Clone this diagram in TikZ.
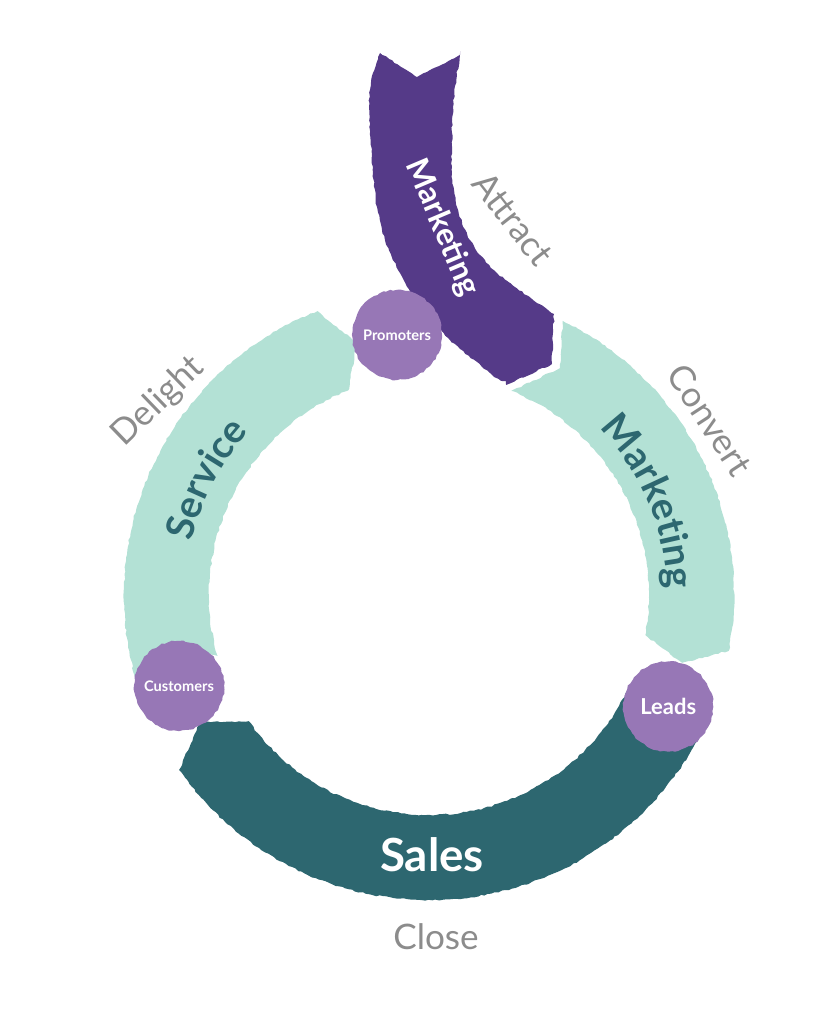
\documentclass[tikz,border=0pt]{standalone}
\usepackage{fontspec}
\setmainfont{Lato}
\usetikzlibrary{decorations.pathmorphing, decorations.text}
\definecolor{attractpurple}{HTML}{553A88}
\definecolor{mint}{HTML}{B3E1D5}
\definecolor{salesteal}{HTML}{2D6770}
\definecolor{stagepurple}{HTML}{9777B6}
\definecolor{phasegray}{HTML}{8C8C8C}

\begin{document}
\begin{tikzpicture}[x=0.02cm, y=0.02cm,
    rough/.style={decorate, decoration={random steps, segment length=2pt, amplitude=0.45pt}},
    stage/.style={circle, fill=stagepurple, minimum size=1.8cm, inner sep=0pt, text=white,
                  font=\bfseries\fontsize{8.3}{10}\selectfont, rough},
    phase/.style={text=phasegray, font=\fontsize{20}{24}\selectfont, inner sep=0pt}]
	\useasboundingbox (0,0) rectangle (825,1017);
	\coordinate (O) at (429,422);

	% service band (delight)
	\fill[mint, rough] ([shift={(O)}]196:305) arc[start angle=196, end angle=111.5, radius=305]
	  -- ([shift={(O)}]106:262) -- ([shift={(O)}]111.5:220)
	  arc[start angle=111.5, end angle=196, radius=220] -- ([shift={(O)}]192:262) -- cycle;
	% marketing band (convert)
	\fill[mint, rough] ([shift={(O)}]64:305) arc[start angle=64, end angle=-10.5, radius=305]
	  -- ([shift={(O)}]-15:262) -- ([shift={(O)}]-10.5:220)
	  arc[start angle=-10.5, end angle=68, radius=220] -- ([shift={(O)}]60:262) -- cycle;
	% sales band (close)
	\fill[salesteal, rough] ([shift={(O)}]-24:305) arc[start angle=-24, end angle=-145, radius=305]
	  -- ([shift={(O)}]-151:262) -- ([shift={(O)}]-145:220)
	  arc[start angle=-145, end angle=-24, radius=220] -- ([shift={(O)}]-29:262) -- cycle;
	% marketing band (attract)
	\fill[attractpurple, rough] (380,964) -- (417,940)
	  -- plot[smooth] coordinates {(460,962) (453,910) (452,844) (457,810) (470,777) (497,744) (554,703)}
	  -- (552,653)
	  -- plot[smooth] coordinates {(506,632) (490,644) (450,677) (420,710) (400,744) (385,777) (377,810) (373,844) (369,910) (373,944)}
	  -- cycle;

	% stages
	\node[stage] (promoters) at ([shift={(O)}]97:262) {Promoters};
	\node[stage] (customers) at ([shift={(O)}]200:266) {Customers};
	\node[stage, font=\bfseries\fontsize{12.5}{14}\selectfont] (leads) at ([shift={(O)}]-25:264) {Leads};

	% band labels
	\node[text=white, font=\bfseries\fontsize{18}{20}\selectfont, rotate=-67] (attractband) at (442,789) {Marketing};
	\path[decorate, decoration={text along path, text align=center,
	    text={|\color{salesteal}\bfseries\fontsize{22}{26}\selectfont|Marketing}}]
	  ([shift={(O)}]60:238) arc[start angle=60, end angle=-14, radius=238];
	\path[decorate, decoration={text along path, text align=center,
	    text={|\color{salesteal}\bfseries\fontsize{22}{26}\selectfont|Service}}]
	  ([shift={(O)}]190:243) arc[start angle=190, end angle=115, radius=243];
	\node[text=white, font=\bfseries\fontsize{26}{30}\selectfont, anchor=base] (salesband) at (432,145) {Sales};

	% phases
	\node[phase, rotate=-52] (attract) at (513,798) {Attract};
	\node[phase, rotate=-57] (convert) at (710,597) {Convert};
	\coordinate (delightstart) at (93,539);
	\coordinate (delightend) at (237,678);
	\path[decorate, decoration={text along path, text align=center,
	    text={|\color{phasegray}\fontsize{20}{24}\selectfont|Delight}}]
	  (delightstart) -- (delightend);
	\node[phase, anchor=base] (close) at (436,67) {Close};
\end{tikzpicture}
\end{document}
